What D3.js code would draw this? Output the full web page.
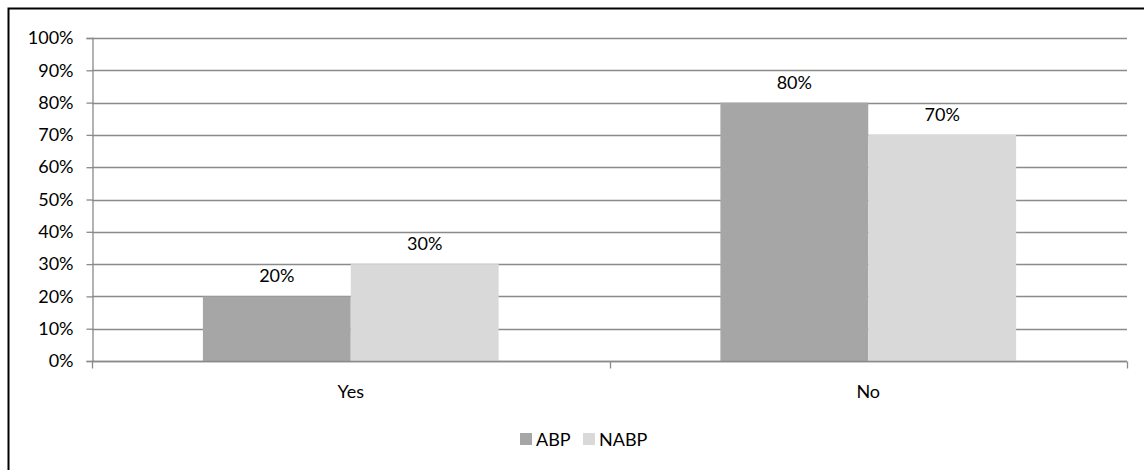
<!DOCTYPE html>
<html>
<head>
<meta charset="utf-8">
<script src="https://d3js.org/d3.v7.min.js"></script>
<style>
  html, body { margin: 0; padding: 0; background: #fff; }
  svg { display: block; }
  text { font-family: Lato, "Open Sans", sans-serif; fill: #000; }
</style>
</head>
<body>
<svg id="chart" width="1144" height="470"></svg>
<script>
// Share of respondents per answer, by group
const categories = ["Yes", "No"];
const seriesNames = ["ABP", "NABP"];
const abpValues = [0.20, 0.80];
const nabpValues = [0.30, 0.70];
const yTicks = [0, 0.1, 0.2, 0.3, 0.4, 0.5, 0.6, 0.7, 0.8, 0.9, 1.0];

const seriesColors = { ABP: "#a6a6a6", NABP: "#d9d9d9" };
const gridColor = "#8a8a8a";
const fontSize = 18;

const rows = categories.map((c, i) => ({ category: c, ABP: abpValues[i], NABP: nabpValues[i] }));

const svg = d3.select("#chart");

// Chart frame
svg.append("rect")
  .attr("x", 8.5).attr("y", 8.5)
  .attr("width", 1200).attr("height", 600)
  .attr("fill", "none").attr("stroke", "#000").attr("stroke-width", 2);

const plot = { left: 92, right: 1127, top: 38, bottom: 361 };

const x = d3.scaleBand().domain(categories).range([plot.left, plot.right]).paddingInner(0).paddingOuter(0);
const barW = x.bandwidth() / (2 + 2 * 0.75);
const xSeries = d3.scaleBand().domain(seriesNames).range([0, 2 * barW]);
const y = d3.scaleLinear().domain([0, 1]).range([plot.bottom, plot.top]);

const fmt = d3.format(".0%");

// Horizontal gridlines
svg.append("g")
  .selectAll("line")
  .data(yTicks)
  .join("line")
  .attr("x1", plot.left).attr("x2", plot.right)
  .attr("y1", d => Math.round(y(d)) + 0.5).attr("y2", d => Math.round(y(d)) + 0.5)
  .attr("stroke", gridColor).attr("stroke-width", 1.3);

// Bars
const groups = svg.append("g")
  .selectAll("g")
  .data(rows)
  .join("g")
  .attr("transform", d => `translate(${x(d.category) + (x.bandwidth() - 2 * barW) / 2},0)`);

groups.selectAll("rect")
  .data(d => seriesNames.map(s => ({ s, v: d[s] })))
  .join("rect")
  .attr("x", d => xSeries(d.s))
  .attr("width", xSeries.bandwidth())
  .attr("y", d => y(d.v))
  .attr("height", d => y(0) - y(d.v))
  .attr("fill", d => seriesColors[d.s]);

// Value labels
groups.selectAll("text")
  .data(d => seriesNames.map(s => ({ s, v: d[s] })))
  .join("text")
  .attr("x", d => xSeries(d.s) + xSeries.bandwidth() / 2)
  .attr("y", d => y(d.v) - 14)
  .attr("text-anchor", "middle")
  .style("font-size", fontSize + "px")
  .text(d => fmt(d.v));

// Y axis
const yAxis = svg.append("g")
  .attr("transform", `translate(${plot.left + 0.5},0)`)
  .call(d3.axisLeft(y).tickValues(yTicks).tickFormat(fmt).tickSize(6).tickPadding(13));
yAxis.select(".domain").attr("stroke", gridColor).attr("stroke-width", 1.3);
yAxis.selectAll(".tick line").attr("stroke", gridColor).attr("stroke-width", 1.3);
yAxis.selectAll(".tick text")
  .style("font-size", fontSize + "px")
  .style("font-family", "Lato, 'Open Sans', sans-serif")
  .attr("fill", "#000");

// X axis: category boundaries carry the tick marks
const xAxisG = svg.append("g").attr("transform", `translate(0,${Math.round(plot.bottom) + 0.5})`);
xAxisG.append("line")
  .attr("x1", plot.left).attr("x2", plot.right)
  .attr("stroke", gridColor).attr("stroke-width", 1.3);
const bounds = categories.map(c => x(c)).concat([x(categories[categories.length - 1]) + x.bandwidth()]);
xAxisG.selectAll("line.tick")
  .data(bounds)
  .join("line")
  .attr("class", "tick")
  .attr("x1", d => Math.round(d) + 0.5).attr("x2", d => Math.round(d) + 0.5)
  .attr("y1", 0).attr("y2", 7)
  .attr("stroke", gridColor).attr("stroke-width", 1.3);
xAxisG.selectAll("text")
  .data(categories)
  .join("text")
  .attr("x", d => x(d) + x.bandwidth() / 2)
  .attr("y", 36)
  .attr("text-anchor", "middle")
  .style("font-size", fontSize + "px")
  .text(d => d);

// Legend
const legend = svg.append("g").attr("transform", "translate(520,433)");
const legendItems = legend.selectAll("g")
  .data(seriesNames)
  .join("g")
  .attr("transform", (d, i) => `translate(${i * 63},0)`);
legendItems.append("rect")
  .attr("width", 12).attr("height", 12)
  .attr("fill", d => seriesColors[d]);
legendItems.append("text")
  .attr("x", 16).attr("y", 12.5)
  .style("font-size", fontSize + "px")
  .text(d => d);
</script>
</body>
</html>
